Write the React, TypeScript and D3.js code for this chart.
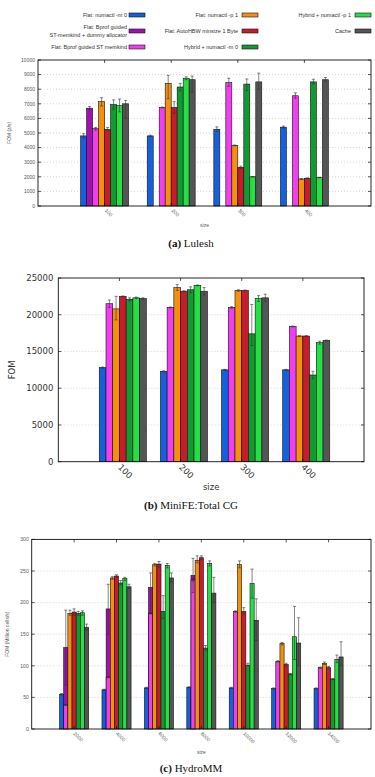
import { useEffect, useRef } from "react";
import { select, scaleLinear, range } from "d3";

// series order as drawn inside every group
const seriesNames = [
    "Flat: numactl -m 0",
    "Flat: Bprof guided\nST-memkind + dummy allocator",
    "Flat: Bprof guided ST memkind",
    "Flat: numactl -p 1",
    "Flat: AutoHBW minsize 1 Byte",
    "Hybrid + numactl -m 0",
    "Hybrid + numactl -p 1",
    "Cache",
];
const seriesColors = [
    "#1560dc",
    "#a012b0",
    "#f03ef0",
    "#f5900f",
    "#c81b2b",
    "#129a32",
    "#24e045",
    "#555555",
];

// (a) Lulesh
const luleshSizes = ["100", "200", "300", "400"];
const luleshFom = [
    [4800, 4800, 5250, 5400],
    [6700, null, null, null],
    [5300, 6750, 8450, 7550],
    [7150, 8400, 4150, 1850],
    [5250, 6750, 2650, 1900],
    [6950, 8150, 8350, 8500],
    [6870, 8750, 2000, 1950],
    [7000, 8650, 8500, 8650],
];
const luleshLow = [
    [4650, 4750, 5100, 5330],
    [6600, null, null, null],
    [5200, 6720, 8200, 7380],
    [6850, 7350, 4120, 1830],
    [5150, 6350, 2570, 1870],
    [6650, 7900, 7900, 8350],
    [6450, 8650, 1980, 1930],
    [6000, 7800, 8000, 8550],
];
const luleshHigh = [
    [4950, 4850, 5420, 5470],
    [6820, null, null, null],
    [5380, 6780, 8750, 7750],
    [7420, 8950, 4180, 1870],
    [5380, 7150, 2730, 1930],
    [7270, 8400, 8700, 8680],
    [7330, 8850, 2020, 1970],
    [7230, 8900, 9100, 8800],
];

// (b) MiniFE: Total CG
const minifeSizes = ["100", "200", "300", "400"];
const minifeFom = [
    [12800, 12300, 12500, 12500],
    [null, null, null, null],
    [21500, 21000, 21000, 18400],
    [20800, 23700, 23300, 17100],
    [22500, 23200, 23300, 17100],
    [22100, 23400, 17400, 11800],
    [22300, 24000, 22200, 16200],
    [22200, 23200, 22300, 16500],
];
const minifeLow = [
    [12720, 12230, 12430, 12430],
    [null, null, null, null],
    [21000, 20950, 20900, 18350],
    [19300, 23300, 23200, 17050],
    [22440, 23140, 23240, 17040],
    [21900, 23000, 15800, 11300],
    [22200, 23950, 21800, 16000],
    [22100, 22700, 21800, 16450],
];
const minifeHigh = [
    [12880, 12370, 12570, 12570],
    [null, null, null, null],
    [22000, 21050, 21100, 18450],
    [22500, 24100, 23400, 17150],
    [22560, 23260, 23360, 17160],
    [22300, 23800, 21400, 12300],
    [22400, 24050, 22600, 16400],
    [22300, 23700, 22800, 16550],
];

// (c) HydroMM
const hydroSizes = ["2000", "4000", "6000", "8000", "10000", "12000", "14000"];
const hydroFom = [
    [55, 62, 65, 66, 65, 64, 64],
    [129, 190, 224, 243, null, null, null],
    [38, 82, 183, 236, 186, 107, 97],
    [183, 239, 260, 267, 260, 135, 104],
    [185, 242, 261, 271, 186, 102, 97],
    [183, 231, 186, 128, 101, 87, 79],
    [184, 238, 259, 262, 230, 146, 110],
    [161, 225, 239, 215, 172, 136, 114],
];
const hydroLow = [
    [54, 61, 64, 65, 64, 63, 63],
    [70, 150, 183, 216, null, null, null],
    [37, 81, 182, 234, 185, 106, 96],
    [180, 237, 258, 263, 255, 133, 102],
    [180, 240, 256, 268, 182, 100, 95],
    [180, 228, 175, 125, 100, 86, 78],
    [180, 235, 255, 258, 207, 110, 105],
    [157, 222, 233, 200, 140, 100, 100],
];
const hydroHigh = [
    [56, 63, 66, 67, 66, 65, 65],
    [188, 229, 247, 270, null, null, null],
    [39, 83, 184, 238, 187, 108, 98],
    [188, 241, 262, 274, 266, 137, 106],
    [190, 244, 265, 274, 192, 104, 99],
    [186, 235, 211, 132, 104, 88, 80],
    [187, 240, 262, 266, 253, 194, 117],
    [166, 229, 247, 240, 206, 176, 138],
];

function drawPanel(svg, cfg) {
    const g = svg.append("g");
    const xScale = scaleLinear()
        .domain([-1, cfg.sizes.length])
        .range([cfg.left, cfg.right]);
    const yScale = scaleLinear()
        .domain([0, cfg.yMax])
        .range([cfg.bottom, cfg.top]);
    const yTicks = range(0, cfg.yMax + 1, cfg.yStep);

    // grid
    g.selectAll(".grid")
        .data(yTicks.slice(1, -1))
        .join("line")
        .attr("x1", cfg.left)
        .attr("x2", cfg.right)
        .attr("y1", (d) => yScale(d))
        .attr("y2", (d) => yScale(d))
        .attr("stroke", "#b8b8b8")
        .attr("stroke-width", 0.6)
        .attr("stroke-dasharray", "1,2");

    // bars
    const w = cfg.barWidth;
    const bars = [];
    cfg.values.forEach((row, s) => {
        row.forEach((v, i) => {
            if (v == null || cfg.slots[s] == null) return;
            const x0 = i + (cfg.slots[s] - cfg.nSlots / 2 + cfg.shift) * w;
            bars.push({
                s,
                x0,
                v,
                lo: cfg.low[s][i],
                hi: cfg.high[s][i],
            });
        });
    });

    g.selectAll(".bar")
        .data(bars)
        .join("rect")
        .attr("x", (d) => xScale(d.x0))
        .attr("width", (d) => xScale(d.x0 + w) - xScale(d.x0))
        .attr("y", (d) => yScale(d.v))
        .attr("height", (d) => yScale(0) - yScale(d.v))
        .attr("fill", (d) => seriesColors[d.s])
        .attr("stroke", "#111")
        .attr("stroke-width", 0.6);

    // error bars
    const errs = g
        .selectAll(".err")
        .data(bars.filter((d) => d.lo != null))
        .join("g")
        .attr("stroke", "#333")
        .attr("stroke-width", 0.6);
    const cx = (d) => xScale(d.x0 + w / 2);
    errs.append("line")
        .attr("x1", cx)
        .attr("x2", cx)
        .attr("y1", (d) => yScale(d.lo))
        .attr("y2", (d) => yScale(d.hi));
    errs.append("line")
        .attr("x1", (d) => cx(d) - 1.5)
        .attr("x2", (d) => cx(d) + 1.5)
        .attr("y1", (d) => yScale(d.hi))
        .attr("y2", (d) => yScale(d.hi));
    errs.append("line")
        .attr("x1", (d) => cx(d) - 1.5)
        .attr("x2", (d) => cx(d) + 1.5)
        .attr("y1", (d) => yScale(d.lo))
        .attr("y2", (d) => yScale(d.lo));

    // frame and mirrored ticks
    g.append("rect")
        .attr("x", cfg.left)
        .attr("y", cfg.top)
        .attr("width", cfg.right - cfg.left)
        .attr("height", cfg.bottom - cfg.top)
        .attr("fill", "none")
        .attr("stroke", "#111")
        .attr("stroke-width", 0.9);

    g.selectAll(".ytick")
        .data(yTicks)
        .join("path")
        .attr(
            "d",
            (d) =>
                `M${cfg.left},${yScale(d)}h3M${cfg.right},${yScale(d)}h-3`
        )
        .attr("stroke", "#111")
        .attr("stroke-width", 0.7);

    g.selectAll(".xtick")
        .data(cfg.sizes)
        .join("path")
        .attr(
            "d",
            (d, i) =>
                `M${xScale(i)},${cfg.top}v3M${xScale(i)},${cfg.bottom}v-3`
        )
        .attr("stroke", "#111")
        .attr("stroke-width", 0.7);

    // tick labels
    g.selectAll(".ylabel")
        .data(yTicks)
        .join("text")
        .attr("x", cfg.left - cfg.yLabelGap)
        .attr("y", (d) => yScale(d))
        .attr("dy", "0.35em")
        .attr("text-anchor", "end")
        .attr("font-size", cfg.fontSize)
        .attr("fill", cfg.textColor)
        .text((d) => d);

    g.selectAll(".xlabel")
        .data(cfg.sizes)
        .join("text")
        .attr(
            "transform",
            (d, i) =>
                `translate(${xScale(i) + cfg.xLabelDx},${cfg.bottom + cfg.xLabelDy}) rotate(45)`
        )
        .attr("font-size", cfg.fontSize)
        .attr("fill", cfg.textColor)
        .text((d) => d);

    // axis titles
    g.append("text")
        .attr("x", (cfg.left + cfg.right) / 2)
        .attr("y", cfg.sizeY)
        .attr("text-anchor", "middle")
        .attr("font-size", cfg.fontSize)
        .attr("fill", cfg.textColor)
        .text("size");

    g.append("text")
        .attr(
            "transform",
            `translate(${cfg.yTitleX},${(cfg.top + cfg.bottom) / 2}) rotate(-90)`
        )
        .attr("text-anchor", "middle")
        .attr("font-size", cfg.fontSize)
        .attr("fill", cfg.textColor)
        .text(cfg.yTitle);

    g.selectAll("text").style("font-family", cfg.font);

    // caption
    const cap = svg
        .append("text")
        .attr("x", 191)
        .attr("y", cfg.captionY)
        .attr("text-anchor", "middle")
        .attr("font-size", 11)
        .attr("fill", "#111")
        .style("font-family", "'Liberation Serif', serif");
    cap.append("tspan").attr("font-weight", "bold").text(cfg.captionTag);
    cap.append("tspan").text(" " + cfg.caption);
}

function drawLegend(svg) {
    const cols = [
        { textEnd: 127, swatch: 129 },
        { textEnd: 238, swatch: 242 },
        { textEnd: 351, swatch: 355 },
    ];
    const rowsY = [15, 31, 47];
    const g = svg.append("g").style("font-family", "'Liberation Sans', sans-serif");
    seriesNames.forEach((name, s) => {
        const col = cols[Math.floor(s / 3)];
        const y = rowsY[s % 3];
        const lines = name.split("\n");
        const t = g
            .append("text")
            .attr("x", col.textEnd)
            .attr("text-anchor", "end")
            .attr("font-size", 5.5)
            .attr("fill", "#333");
        lines.forEach((ln, k) => {
            t.append("tspan")
                .attr("x", col.textEnd)
                .attr("y", y + 2 + (k - (lines.length - 1) / 2) * 8)
                .text(ln);
        });
        g.append("rect")
            .attr("x", col.swatch)
            .attr("y", y - 2)
            .attr("width", 16)
            .attr("height", 4)
            .attr("fill", seriesColors[s])
            .attr("stroke", "#111")
            .attr("stroke-width", 0.6);
    });
}

export default function App() {
    const svgRef = useRef(null);

    useEffect(() => {
        const svg = select(svgRef.current);
        svg.selectAll("*").remove();

        drawLegend(svg);

        drawPanel(svg, {
            sizes: luleshSizes,
            values: luleshFom,
            low: luleshLow,
            high: luleshHigh,
            slots: [0, 1, 2, 3, 4, 5, 6, 7],
            nSlots: 8,
            shift: 0,
            barWidth: 0.09,
            left: 38,
            right: 371,
            top: 60,
            bottom: 206,
            yMax: 10000,
            yStep: 1000,
            fontSize: 5,
            textColor: "#555",
            font: "'Liberation Sans', sans-serif",
            yLabelGap: 3,
            xLabelDx: 0,
            xLabelDy: 5,
            sizeY: 227,
            yTitleX: 11,
            yTitle: "FOM (z/s)",
            captionY: 247,
            captionTag: "(a)",
            caption: "Lulesh",
        });

        drawPanel(svg, {
            sizes: minifeSizes,
            values: minifeFom,
            low: minifeLow,
            high: minifeHigh,
            slots: [0, null, 1, 2, 3, 4, 5, 6],
            nSlots: 7,
            shift: 0.5,
            barWidth: 0.11,
            left: 58.3,
            right: 364,
            top: 278,
            bottom: 461.7,
            yMax: 25000,
            yStep: 5000,
            fontSize: 8.5,
            textColor: "#333",
            font: "'DejaVu Sans', sans-serif",
            yLabelGap: 5,
            xLabelDx: -2,
            xLabelDy: 6,
            sizeY: 490,
            yTitleX: 15,
            yTitle: "FOM",
            captionY: 509,
            captionTag: "(b)",
            caption: "MiniFE:Total CG",
        });

        drawPanel(svg, {
            sizes: hydroSizes,
            values: hydroFom,
            low: hydroLow,
            high: hydroHigh,
            slots: [0, 1, 1, 2, 3, 4, 5, 6],
            nSlots: 7,
            shift: 0,
            barWidth: 0.098,
            left: 31.7,
            right: 371,
            top: 539.4,
            bottom: 729,
            yMax: 300,
            yStep: 50,
            fontSize: 5,
            textColor: "#555",
            font: "'Liberation Sans', sans-serif",
            yLabelGap: 3,
            xLabelDx: -1,
            xLabelDy: 5,
            sizeY: 754,
            yTitleX: 9,
            yTitle: "FOM (Million cells/s)",
            captionY: 772,
            captionTag: "(c)",
            caption: "HydroMM",
        });
    }, []);

    return (
        <svg
            ref={svgRef}
            width={375}
            height={777}
            style={{ position: "absolute", left: 0, top: 0, background: "#fff" }}
        ></svg>
    );
}
